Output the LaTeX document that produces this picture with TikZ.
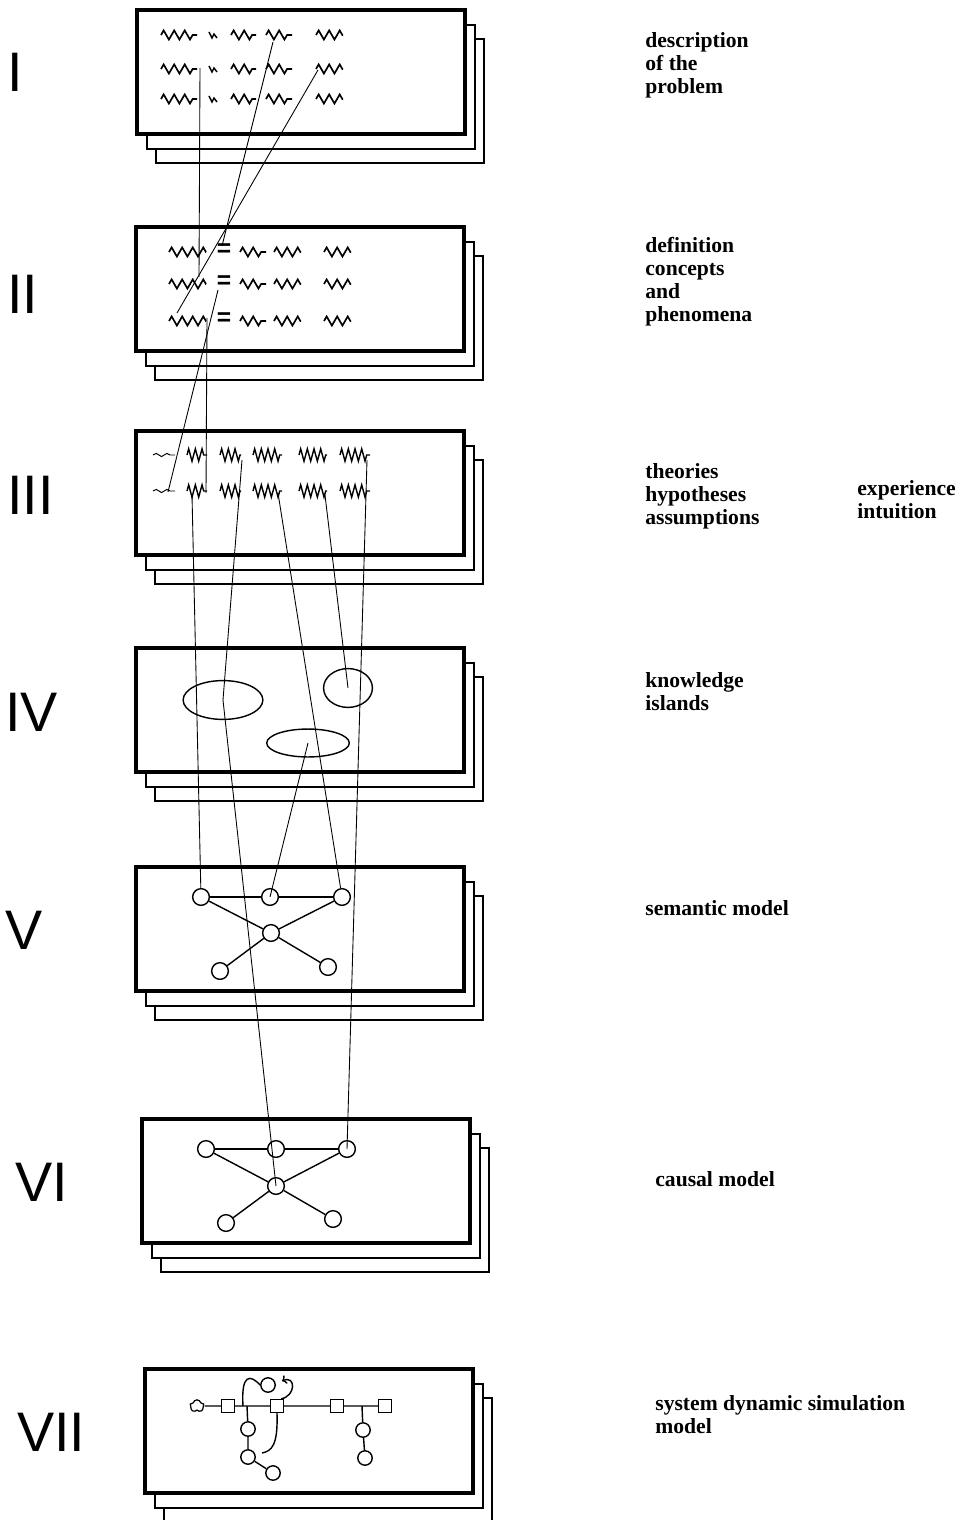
\documentclass[tikz,border=0pt]{standalone}
\usepackage{fontspec}
\setsansfont{Liberation Sans}
\newfontfamily\lblfont{Liberation Serif}
\usetikzlibrary{decorations.pathmorphing, shapes.geometric, shapes.symbols, arrows.meta}

\begin{document}
\begin{tikzpicture}[x=0.02cm, y=-0.02cm,
    sheet/.style={draw, line width=0.6pt, fill=white},
    panel/.style={draw, line width=2.3pt, fill=white},
    stage/.style={font=\sffamily\fontsize{31.7}{38}\selectfont, inner sep=0pt, anchor=west},
    note/.style={font=\lblfont\bfseries\fontsize{12.3}{13}\selectfont, align=left, inner sep=0pt, anchor=north west},
    squigA/.style={decorate, decoration={zigzag, segment length=6pt, amplitude=2.6pt}, line width=0.95pt},
    squigB/.style={decorate, decoration={zigzag, segment length=3.8pt, amplitude=3.5pt}, line width=0.8pt},
    squigT/.style={decorate, decoration={snake, segment length=6pt, amplitude=0.9pt}, line width=0.55pt},
    eqsign/.style={font=\sffamily\bfseries\fontsize{14}{14}\selectfont, inner sep=0pt},
    island/.style={ellipse, draw, line width=0.8pt, inner sep=0pt},
    concept/.style={circle, draw, line width=0.8pt, minimum size=9.5pt, inner sep=0pt},
    level/.style={circle, draw, line width=0.8pt, minimum size=8.2pt, inner sep=0pt},
    stock/.style={rectangle, draw, line width=0.8pt, minimum size=7.4pt, inner sep=0pt},
    edge/.style={line width=0.8pt},
    link/.style={line width=0.5pt},
]
\clip (0,0) rectangle (958,1520);
\fill[white] (0,0) rectangle (958,1520);

% stacked sheets
\foreach \px/\py in {137/10, 136/227, 136/431, 136/648, 136/867, 142/1119, 145/1369} {
    \draw[sheet] (\px+19,\py+29) rectangle ++(328,124);
    \draw[sheet] (\px+10,\py+15) rectangle ++(328,124);
    \draw[panel] (\px,\py) rectangle ++(328,124);
}

% stage numbers
\node[stage] (sI)   at (7,72)    {I};
\node[stage] (sII)  at (7,294)   {II};
\node[stage] (sIII) at (7,495)   {III};
\node[stage] (sIV)  at (5,712)   {IV};
\node[stage] (sV)   at (5,930)   {V};
\node[stage] (sVI)  at (15,1182) {VI};
\node[stage] (sVII) at (17,1432) {VII};

% notes
\node[note] (tI)   at (645,32)   {description\\of the\\problem};
\node[note] (tII)  at (645,237)  {definition\\concepts\\and\\phenomena};
\node[note] (tIII) at (645,463)  {theories\\hypotheses\\assumptions};
\node[note] (tEx)  at (857,480)  {experience\\intuition};
\node[note] (tIV)  at (645,672)  {knowledge\\islands};
\node[note] (tV)   at (645,900)  {semantic model};
\node[note] (tVI)  at (655,1171) {causal model};
\node[note] (tVII) at (655,1395) {system dynamic simulation\\model};

% I: problem text
\foreach \y in {35,69,99} {
    \draw[squigA] (161,\y) -- (197,\y);
    \draw[edge] (209,\y-3) -- (212,\y+3) -- (214,\y-1) -- (217,\y+3);
    \draw[squigA] (231,\y) -- (256,\y);
    \draw[squigA] (266,\y) -- (292,\y);
    \draw[squigA] (316,\y) -- (343,\y);
}

% II: definitions
\foreach \y/\e in {252/250, 284/282, 321/319} {
    \draw[squigA] (169,\y) -- (206,\y);
    \node[eqsign] (eq-\y) at (224,\e) {=};
    \draw[squigA] (240,\y) -- (266,\y);
    \draw[squigA] (274,\y) -- (301,\y);
    \draw[squigA] (324,\y) -- (351,\y);
}

% III: theories
\foreach \y in {455,491} {
    \draw[squigT] (153,\y) -- (175,\y);
    \draw[squigB] (187,\y) -- (207,\y);
    \draw[squigB] (220,\y) -- (241,\y);
    \draw[squigB] (253,\y) -- (282,\y);
    \draw[squigB] (299,\y) -- (327,\y);
    \draw[squigB] (340,\y) -- (370,\y);
}

% IV: knowledge islands
\node[island, minimum width=45.4pt, minimum height=22.1pt] (e4a) at (223,700) {};
\node[island, minimum width=27.8pt, minimum height=22.1pt] (e4b) at (348,688) {};
\node[island, minimum width=47pt,   minimum height=15.9pt] (e4c) at (308,743) {};

% V: semantic model
\node[concept] (v5a) at (201,897) {};
\node[concept] (v5b) at (270,897) {};
\node[concept] (v5c) at (342,897) {};
\node[concept] (v5h) at (271,933) {};
\node[concept] (v5d) at (220,971) {};
\node[concept] (v5e) at (328,967) {};
\draw[edge] (v5a) -- (v5b) -- (v5c);
\draw[edge] (v5a) -- (v5h) -- (v5c);
\draw[edge] (v5d) -- (v5h) -- (v5e);

% VI: causal model
\node[concept] (v6a) at (206,1149) {};
\node[concept] (v6b) at (276,1149) {};
\node[concept] (v6c) at (347,1149) {};
\node[concept] (v6h) at (276,1186) {};
\node[concept] (v6d) at (226,1223) {};
\node[concept] (v6e) at (333,1219) {};
\draw[edge] (v6a) -- (v6b) -- (v6c);
\draw[edge] (v6a) -- (v6h) -- (v6c);
\draw[edge] (v6d) -- (v6h) -- (v6e);

% VII: simulation model
\node[cloud, draw, cloud puffs=5, aspect=1.1, minimum width=8pt, minimum height=7pt, inner sep=0pt, line width=0.7pt] (src) at (197,1406) {};
\node[stock] (s1) at (228,1406) {};
\node[stock] (s2) at (277,1406) {};
\node[stock] (s3) at (337,1406) {};
\node[stock] (s4) at (385,1406) {};
\node[level] (c1) at (248,1429) {};
\node[level] (c2) at (248,1457) {};
\node[level] (c3) at (273,1473) {};
\node[level] (c4) at (268,1385) {};
\node[level] (c5) at (363,1430) {};
\node[level] (c6) at (365,1458) {};
\coordinate (j1) at (247,1406);
\coordinate (j2) at (243,1406);
\coordinate (j3) at (362,1406);
\coordinate (k1) at (262,1453);
\coordinate (k2) at (282,1381);
\draw[edge] (src) -- (s1) -- (s2) -- (s3) -- (s4);
\draw[edge] (j1) -- (c1) -- (c2) -- (c3);
\draw[edge] (j3) -- (c5) -- (c6);
\draw[edge] (j2) .. controls (241,1374) and (250,1374) .. (c4.west);
\draw[edge, -{To[length=2.5pt]}] (s2.60) .. controls (296,1396) and (296,1375) .. (k2);
\draw[edge] (s2.south) .. controls (278,1445) and (272,1451) .. (k1);

% links between stages
\coordinate (aI1) at (273,42);
\coordinate (aI2) at (200,68);
\coordinate (aI3) at (318,70);
\coordinate (aII1) at (222,246);
\coordinate (aII2) at (199,277);
\coordinate (aII3) at (177,313);
\coordinate (aII4) at (218,290);
\coordinate (aII5) at (207,318);
\coordinate (aIII1) at (168,492);
\coordinate (aIII2) at (206,493);
\coordinate (aIII3) at (192,495);
\coordinate (aIII4) at (242,460);
\coordinate (aIII5) at (278,493);
\coordinate (aIII6) at (325,495);
\coordinate (aIII7) at (367,460);
\draw[link] (aI1) -- (aII1);
\draw[link] (aI2) -- (aII2);
\draw[link] (aI3) -- (aII3);
\draw[link] (aII4) -- (aIII1);
\draw[link] (aII5) -- (aIII2);
\draw[link] (aIII3) -- (v5a);
\draw[link] (aIII4) -- (e4a.center);
\draw[link] (aIII5) -- (v5c);
\draw[link] (aIII6) -- (e4b.center);
\draw[link] (aIII7) -- (v6c.center);
\draw[link] (e4a.center) -- (v6h.center);
\draw[link] (e4c.center) -- (v5b.center);
\end{tikzpicture}
\end{document}
